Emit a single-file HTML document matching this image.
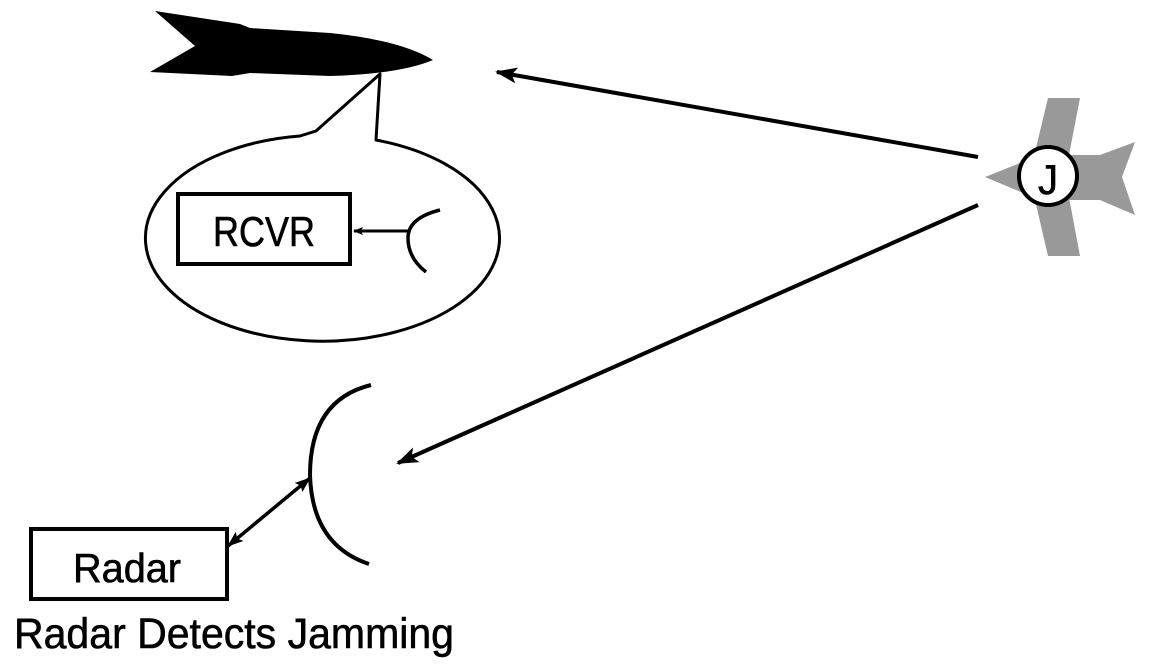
<!DOCTYPE html>
<html><head><meta charset="utf-8"><style>html,body{margin:0;padding:0;background:#fff}svg{display:block}</style></head>
<body>
<svg width="1149" height="669" viewBox="0 0 1149 669" xmlns="http://www.w3.org/2000/svg" font-family="Liberation Sans, sans-serif">
<defs>
<marker id="ah" markerWidth="10" markerHeight="8" refX="9" refY="4" orient="auto" markerUnits="userSpaceOnUse" viewBox="0 0 10 8">
<path d="M0,0 L10,4 L0,8 L2,4 Z" fill="#000"/></marker>
<marker id="ah2" markerWidth="22" markerHeight="16" refX="20" refY="8" orient="auto-start-reverse" markerUnits="userSpaceOnUse" viewBox="0 0 22 16">
<path d="M0,0 L22,8 L0,16 L5,8 Z" fill="#000"/></marker>
<marker id="ah3" markerWidth="16" markerHeight="12" refX="15" refY="6" orient="auto-start-reverse" markerUnits="userSpaceOnUse" viewBox="0 0 16 12">
<path d="M0,0 L16,6 L0,12 L3,6 Z" fill="#000"/></marker>
</defs>
<!-- missile -->
<path d="M155,11 L240,24 L250,28 L330,33 Q400,40 433,60 Q400,74 330,76 L250,73 L232,76 L150,72 L195,46 Z" fill="#000"/>
<!-- callout -->
<path d="M380,74 L316,131 L300,136 A177,103 0 1 0 376,140 Z" fill="none" stroke="#000" stroke-width="3" stroke-linejoin="round"/>
<rect x="178" y="194" width="172" height="70" fill="#fff" stroke="#000" stroke-width="4"/>
<text x="264" y="246" font-size="42" text-anchor="middle" textLength="102" lengthAdjust="spacingAndGlyphs" stroke="#000" stroke-width="0.6">RCVR</text>
<line x1="408" y1="231" x2="354" y2="231" stroke="#000" stroke-width="3" marker-end="url(#ah)"/>
<path d="M440,210 Q408,218 408,238 Q408,258 426,272" fill="none" stroke="#000" stroke-width="3.5"/>
<!-- jammer -->
<g fill="#999">
<polygon points="1048,98 1080,98 1068,160 1035,152"/>
<polygon points="1035,200 1068,192 1080,256 1048,256"/>
<polygon points="985,177 1040,155 1100,155 1135,142 1122,177 1135,215 1100,200 1040,200"/>
</g>
<circle cx="1048" cy="176" r="29" fill="#fff" stroke="#000" stroke-width="4"/>
<text x="1048" y="194" font-size="42" text-anchor="middle" textLength="20" lengthAdjust="spacingAndGlyphs" stroke="#000" stroke-width="0.6">J</text>
<!-- arrows -->
<line x1="978" y1="157" x2="497" y2="72" stroke="#000" stroke-width="4" marker-end="url(#ah2)"/>
<line x1="978" y1="205" x2="398" y2="463" stroke="#000" stroke-width="4" marker-end="url(#ah2)"/>
<!-- dish -->
<path d="M371,385 Q310,400 310,475 Q312,545 369,564" fill="none" stroke="#000" stroke-width="4"/>
<line x1="228" y1="546" x2="310" y2="478" stroke="#000" stroke-width="3.5" marker-start="url(#ah3)" marker-end="url(#ah3)"/>
<rect x="31" y="529" width="196" height="70" fill="#fff" stroke="#000" stroke-width="4"/>
<text x="127" y="582" font-size="41" text-anchor="middle" textLength="108" lengthAdjust="spacingAndGlyphs" stroke="#000" stroke-width="0.6">Radar</text>
<text x="14" y="648" font-size="43" textLength="440" lengthAdjust="spacingAndGlyphs" stroke="#000" stroke-width="0.6">Radar Detects Jamming</text>
</svg>
</body></html>
